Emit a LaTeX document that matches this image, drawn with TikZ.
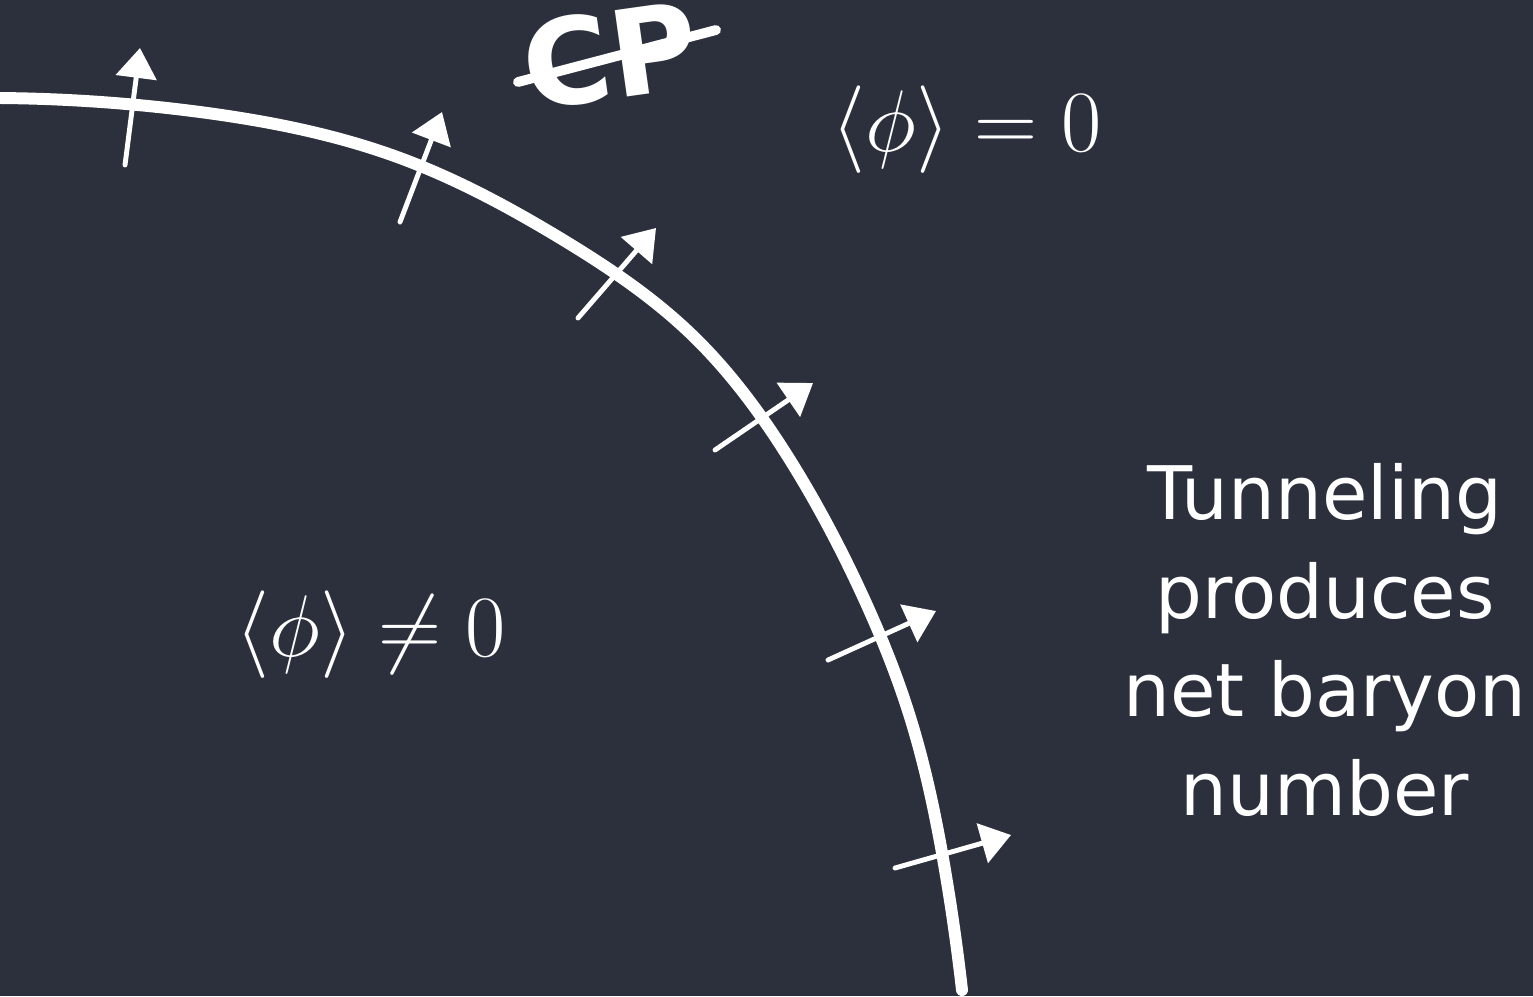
\documentclass[tikz,border=0pt]{standalone}
\usepackage{fontspec}
\newfontfamily\chalkfont{DejaVu Sans}
\usetikzlibrary{arrows.meta, hobby}

\definecolor{board}{RGB}{44,48,60}
\tikzset{
	wall/.style={draw=white, line width=3.4pt, line cap=round, line join=round},
	flux/.style={draw=white, line width=1.4pt, line cap=round, -{Triangle[length=8.5pt, width=11.5pt]}},
	handtext/.style={text=white, align=center, font=\chalkfont\fontsize{21}{28}\selectfont},
	vev/.style={text=white, font=\fontsize{29}{32}\selectfont}
}

\begin{document}
\begin{tikzpicture}[x=0.01cm, y=-0.01cm]
	\fill[board] (0,0) rectangle (1533,996);
	\useasboundingbox (0,0) rectangle (1533,996);
	% bubble wall
	\draw[wall, use Hobby shortcut] (0,98) .. (200,112) .. (400,158) .. (560,238) .. (690,333) .. (790,460) .. (860,590) .. (910,717) .. (945,870) .. (962,990);
	% arrows through the wall
	\draw[flux] (125,165) -- (140,48);
	\draw[flux] (400,222) -- (442,112);
	\draw[flux] (578,318) -- (656,228);
	\draw[flux] (715,450) -- (813,383);
	\draw[flux] (828,660) -- (936,611);
	\draw[flux] (895,868) -- (1011,835);
	% crossed out CP
	\node[handtext, font=\chalkfont\bfseries\fontsize{34}{34}\selectfont, rotate=8] (cp) at (610,55) {CP};
	\draw[white, line width=2.8pt, line cap=round] (518,82) -- (716,30);
	% labels
	\node[vev] (out) at (967,130) {$\langle\phi\rangle = 0$};
	\node[vev] (in) at (371,635) {$\langle\phi\rangle \neq 0$};
	\node[handtext] (note) at (1325,640) {Tunneling\\produces\\net baryon\\number};
\end{tikzpicture}
\end{document}
